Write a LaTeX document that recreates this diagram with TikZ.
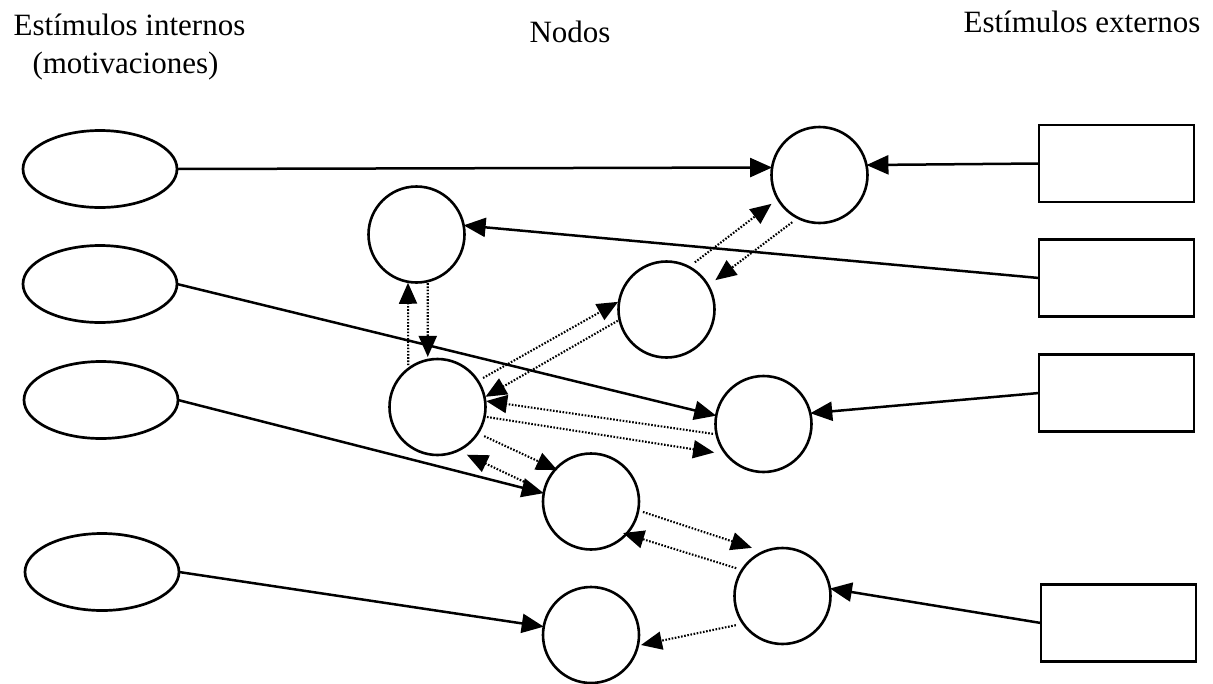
\documentclass[tikz,border=0pt]{standalone}
\usepackage{fontspec}
\setmainfont{Liberation Serif}
\usetikzlibrary{arrows.meta,shapes.geometric,calc}

\begin{document}
\begin{tikzpicture}[x=1pt,y=-1pt,
  every node/.style={inner sep=0pt, outer sep=0pt},
  nodo/.style={circle, draw, line width=2.6pt, minimum size=96pt},
  interno/.style={ellipse, draw, line width=2.7pt, minimum width=154pt, minimum height=77pt},
  externo/.style={rectangle, draw, line width=2.7pt, minimum width=155pt, minimum height=77pt},
  titulo/.style={font=\fontsize{31}{37}\selectfont, anchor=base},
  enlace/.style={line width=2.5pt, -{Triangle[length=22pt,width=19pt]}},
  senal/.style={line width=2.1pt, dash pattern=on 1.6pt off 1.6pt, -{Triangle[length=21pt,width=18pt]}}
]
\fill[white] (0,0) rectangle (1213,683);
\useasboundingbox (0,0) rectangle (1213,683);

% column headings
\node[titulo] (tInt) at (129.5,35) {Estímulos internos};
\node[titulo] (tMot) at (125.5,73) {(motivaciones)};
\node[titulo] (tNod) at (570,42) {Nodos};
\node[titulo] (tExt) at (1082,32) {Estímulos externos};

% internal stimuli
\node[interno] (E1) at (100,169) {};
\node[interno] (E2) at (100,284) {};
\node[interno] (E3) at (101,400) {};
\node[interno] (E4) at (102,572) {};

% external stimuli
\node[externo] (R1) at (1116.5,163.5) {};
\node[externo] (R2) at (1116.5,278) {};
\node[externo] (R3) at (1116.5,393) {};
\node[externo] (R4) at (1118.5,623) {};

% nodes
\node[nodo] (C1) at (819.5,175) {};
\node[nodo] (C2) at (416.5,234.5) {};
\node[nodo] (C3) at (666.5,309.5) {};
\node[nodo] (C4) at (437.5,407) {};
\node[nodo] (C5) at (763.5,424) {};
\node[nodo] (C6) at (591,501.5) {};
\node[nodo] (C7) at (782.5,596) {};
\node[nodo] (C8) at (591,635) {};

% stimulus inputs
\draw[enlace] (E1.east) -- (C1.171);
\draw[enlace] (R1.west) -- (C1.12);
\draw[enlace] (R2.west) -- (C2.11);
\draw[enlace] (E2.east) -- (C5.170);
\draw[enlace] (E3.east) -- (C6.170);
\draw[enlace] (E4.east) -- (C8.170);
\draw[enlace] (R3.west) -- (C5.13);
\draw[enlace] (R4.west) -- (C7.9);

% links between nodes
\draw[senal] ($(C3)+(59:55pt)$) -- ($(C1)+(211:56pt)$);
\draw[senal] ($(C1)+(240:54.5pt)$) -- ($(C3)+(31:57pt)$);
\draw[senal] ($(C4)+(125:51pt)$) -- ($(C2)+(260:49pt)$);
\draw[senal] ($(C2)+(283:50pt)$) -- ($(C4)+(101:51pt)$);
\draw[senal] ($(C4)+(32.5:54pt)$) -- ($(C3)+(171:49pt)$);
\draw[senal] ($(C3)+(193:50pt)$) -- ($(C4)+(12:49pt)$);
\draw[senal] ($(C5)+(191:51.5pt)$) -- ($(C4)+(7:49pt)$);
\draw[senal] ($(C4)+(-11.4:50.5pt)$) -- ($(C5)+(210:57pt)$);
\draw[senal] ($(C4)+(-32:55pt)$) -- ($(C6)+(137:46pt)$);
\draw[senal] ($(C6)+(164:66.6pt)$) -- ($(C4)+(-58.4:56pt)$);
\draw[senal] ($(C6)+(-11.4:53pt)$) -- ($(C7)+(122.4:57pt)$);
\draw[senal] ($(C7)+(149:54pt)$) -- ($(C6)+(-44.5:45pt)$);
\draw[senal] ($(C7)+(212:55pt)$) -- ($(C8)+(-11.3:51pt)$);
\end{tikzpicture}
\end{document}
